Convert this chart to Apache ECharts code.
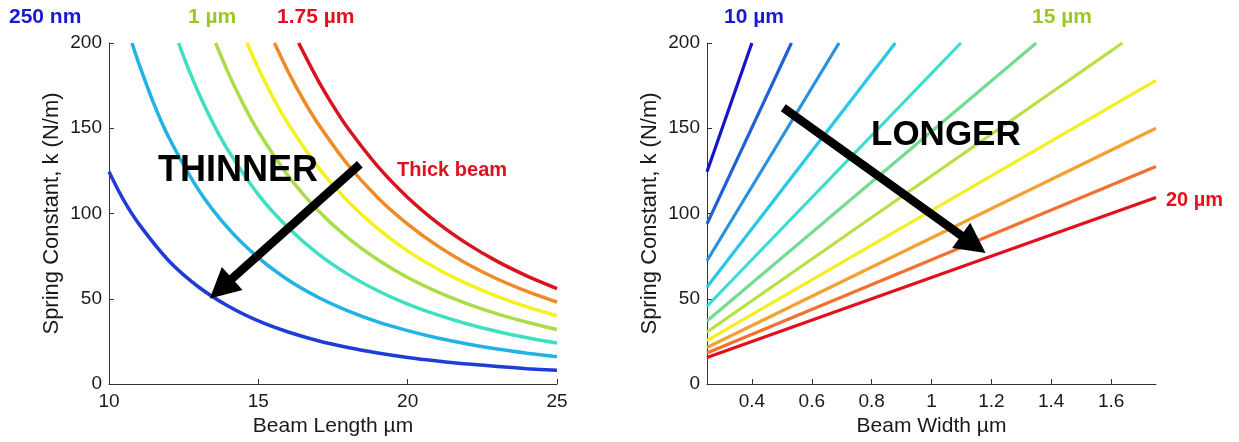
<!DOCTYPE html>
<html><head><meta charset="utf-8">
<script src="https://cdn.jsdelivr.net/npm/echarts@6/dist/echarts.min.js"></script>
<style>html,body{margin:0;padding:0;background:#fff}#c{width:1239px;height:442px}</style>
</head><body><div id="c"></div>
<script>
// ---- Left chart: spring constant vs beam length, one curve per beam width ----
const leftNames = ['250 nm', '500 nm', '750 nm', '1 µm', '1.25 µm', '1.5 µm', '1.75 µm'];
const leftColors = ['#1f3cd6', '#22b2e6', '#3fe0c2', '#aade48', '#f4f21e', '#f08a26', '#d8141e'];
const kW025 = [[10,124.5],[10.5,107.5],[11,93.9],[12,72.3],[13,56.9],[14,45.6],[15,37.0],[16,30.5],[17,25.4],[18,21.4],[19,18.2],[20,15.6],[21,13.5],[22,11.7],[23,10.3],[24,9.0],[25,8.0]];
const kW050 = [[10.77,200],[11,187.9],[11.5,164.4],[12,144.7],[13,113.8],[14,91.1],[15,74.1],[16,61.0],[17,50.9],[18,42.9],[19,36.4],[20,31.3],[21,27.0],[22,23.5],[23,20.5],[24,18.1],[25,16.0]];
const kW075 = [[12.33,200],[12.6,187.5],[13,170.7],[13.5,152.4],[14,136.7],[15,111.1],[16,91.6],[17,76.3],[18,64.3],[19,54.7],[20,46.9],[21,40.5],[22,35.2],[23,30.8],[24,27.1],[25,24.0]];
const kW100 = [[13.57,200],[14,182.2],[14.5,164.0],[15,148.1],[16,122.1],[17,101.8],[18,85.7],[19,72.9],[20,62.5],[21,54.0],[22,47.0],[23,41.1],[24,36.2],[25,32.0]];
const kW125 = [[14.62,200],[15,185.2],[15.5,167.8],[16,152.6],[17,127.2],[18,107.2],[19,91.1],[20,78.1],[21,67.5],[22,58.7],[23,51.4],[24,45.2],[25,40.0]];
const kW150 = [[15.54,200],[16,183.1],[16.5,166.9],[17,152.7],[18,128.6],[19,109.3],[20,93.8],[21,81.0],[22,70.4],[23,61.6],[24,54.3],[25,48.0]];
const kW175 = [[16.35,200],[17,178.1],[17.5,163.3],[18,150.0],[19,127.6],[20,109.4],[21,94.5],[22,82.2],[23,71.9],[24,63.3],[25,56.0]];
const leftCurves = [kW025, kW050, kW075, kW100, kW125, kW150, kW175];
const leftXTicks = [10, 15, 20, 25];
const arrowLeft = [[18.4, 128.9], [13.75, 56.0]];

// ---- Right chart: spring constant vs beam width, one line per beam length ----
const rightNames = ['10 µm','11 µm','12 µm','13 µm','14 µm','15 µm','16 µm','17 µm','18 µm','19 µm','20 µm'];
const rightColors = ['#1414c8', '#2060d6', '#2892e0', '#28c8e8', '#3cdcd0', '#74dc92', '#b6e044', '#f2f020', '#f2a232', '#f27030', '#e2101e'];
const kL10 = [[0.25,124.5],[0.40,200]];
const kL11 = [[0.25,93.9],[0.532,200]];
const kL12 = [[0.25,72.3],[0.691,200]];
const kL13 = [[0.25,56.9],[0.879,200]];
const kL14 = [[0.25,45.6],[1.098,200]];
const kL15 = [[0.25,37.0],[1.35,200]];
const kL16 = [[0.25,30.5],[1.638,200]];
const kL17 = [[0.25,25.4],[1.75,178.1]];
const kL18 = [[0.25,21.4],[1.75,150.0]];
const kL19 = [[0.25,18.2],[1.75,127.6]];
const kL20 = [[0.25,15.6],[1.75,109.4]];
const rightLines = [kL10, kL11, kL12, kL13, kL14, kL15, kL16, kL17, kL18, kL19, kL20];
const rightXTicks = [0.4, 0.6, 0.8, 1, 1.2, 1.4, 1.6];
const arrowRight = [[0.505, 162.0], [1.14, 82.0]];

const FONT = 'Liberation Sans, Arial, sans-serif';
const axisCommon = {
  axisLine: { show: true, lineStyle: { color: '#333', width: 1 } },
  axisTick: { show: true, inside: true, length: 5, lineStyle: { color: '#333' } },
  splitLine: { show: false },
  nameTextStyle: { fontFamily: FONT, fontSize: 21, color: '#1a1a1a' }
};
function yAxis(gridIndex) {
  return Object.assign({}, axisCommon, {
    type: 'value', gridIndex, min: 0, max: 200, interval: 50,
    name: 'Spring Constant, k (N/m)', nameLocation: 'middle', nameGap: 46, nameRotate: 90,
    nameTextStyle: { fontFamily: FONT, fontSize: 22, color: '#1a1a1a' },
    axisLabel: { fontFamily: FONT, fontSize: 19, color: '#1a1a1a', margin: 7 }
  });
}
function arrowMark(pts) {
  return {
    silent: true, animation: false,
    symbol: ['none', 'triangle'], symbolSize: [31, 30], symbolOffset: [0, 0],
    label: { show: false },
    lineStyle: { color: '#000', width: 8.5, type: 'solid', opacity: 1 },
    emphasis: { disabled: true },
    data: [[{ coord: pts[0] }, { coord: pts[1] }]]
  };
}

const series = [];
leftCurves.forEach((d, i) => {
  const s = {
    type: 'line', name: leftNames[i], xAxisIndex: 0, yAxisIndex: 0, data: d,
    smooth: 0.3, showSymbol: false, symbol: 'none',
    lineStyle: { color: leftColors[i], width: 3.5 }, itemStyle: { color: leftColors[i] }
  };
  if (i === leftCurves.length - 1) s.markLine = arrowMark(arrowLeft);
  series.push(s);
});
rightLines.forEach((d, i) => {
  const s = {
    type: 'line', name: rightNames[i], xAxisIndex: 1, yAxisIndex: 1, data: d,
    showSymbol: false, symbol: 'none',
    lineStyle: { color: rightColors[i], width: 3.2 }, itemStyle: { color: rightColors[i] }
  };
  if (i === rightLines.length - 1) s.markLine = arrowMark(arrowRight);
  series.push(s);
});

function txt(text, x, y, size, color) {
  return { type: 'text', x, y, z: 100, style: { text, fill: color, font: 'bold ' + size + 'px ' + FONT, align: 'left', verticalAlign: 'middle' } };
}

const option = {
  animation: false,
  backgroundColor: '#fff',
  grid: [
    { left: 109, top: 43, width: 448, height: 343 },
    { left: 707, top: 43, width: 449, height: 343 }
  ],
  xAxis: [
    Object.assign({}, axisCommon, {
      type: 'value', gridIndex: 0, min: 10, max: 25, interval: 5,
      name: 'Beam Length µm', nameLocation: 'middle', nameGap: 32,
      axisLabel: { fontFamily: FONT, fontSize: 19, color: '#1a1a1a', margin: 8, customValues: leftXTicks },
      axisTick: Object.assign({}, axisCommon.axisTick, { customValues: leftXTicks })
    }),
    Object.assign({}, axisCommon, {
      type: 'value', gridIndex: 1, min: 0.25, max: 1.75,
      name: 'Beam Width µm', nameLocation: 'middle', nameGap: 32,
      axisLabel: { fontFamily: FONT, fontSize: 19, color: '#1a1a1a', margin: 8, customValues: rightXTicks },
      axisTick: Object.assign({}, axisCommon.axisTick, { customValues: rightXTicks })
    })
  ],
  yAxis: [yAxis(0), yAxis(1)],
  series,
  graphic: [
    txt('250 nm', 9, 17, 21, '#1a1ad2'),
    txt('1 µm', 188, 17, 21, '#9cc824'),
    txt('1.75 µm', 277, 17, 21, '#e0101e'),
    txt('10 µm', 724, 17, 21, '#1a1ad2'),
    txt('15 µm', 1032, 17, 21, '#9cc824'),
    txt('20 µm', 1166, 200, 20, '#e8101e'),
    txt('Thick beam', 397, 170, 20, '#e0101e'),
    txt('THINNER', 158, 171, 36, '#000'),
    txt('LONGER', 871, 135, 35, '#000')
  ]
};
const chart = echarts.init(document.getElementById('c'), null, { renderer: 'canvas' });
chart.setOption(option);
</script>
</body></html>
